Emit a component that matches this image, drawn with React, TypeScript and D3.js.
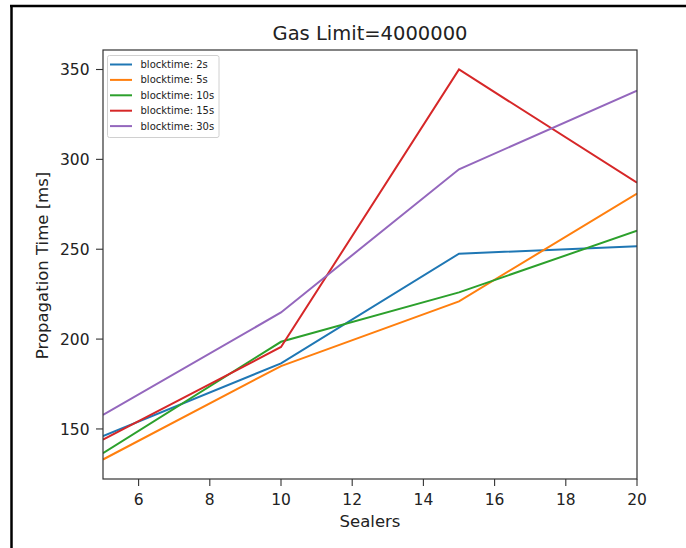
import React from "react";
import * as d3 from "d3";

const sealers = [5, 10, 15, 20];
const seriesNames = ["blocktime: 2s", "blocktime: 5s", "blocktime: 10s", "blocktime: 15s", "blocktime: 30s"];
const bt2 = [146, 186.5, 247.5, 251.6];
const bt5 = [133, 185, 221, 281];
const bt10 = [136.5, 198.5, 226, 260.3];
const bt15 = [144, 195.6, 350, 287];
const bt30 = [157.8, 214.8, 294.5, 338.2];
const seriesValues = [bt2, bt5, bt10, bt15, bt30];
const colors = ["#1f77b4", "#ff7f0e", "#2ca02c", "#d62728", "#9467bd"];
const xTicks = [6, 8, 10, 12, 14, 16, 18, 20];
const yTicks = [150, 200, 250, 300, 350];

const W = 686;
const H = 548;
const left = 103;
const right = 637;
const top = 50;
const bottom = 479;
const font = "DejaVu Sans, sans-serif";

export default function App() {
  const allVals = seriesValues.flat();
  const yMin = d3.min(allVals) as number;
  const yMax = d3.max(allVals) as number;
  const pad = (yMax - yMin) * 0.05;
  const x = d3.scaleLinear().domain([5, 20]).range([left, right]);
  const y = d3.scaleLinear().domain([yMin - pad, yMax + pad]).range([bottom, top]);
  const line = d3
    .line<number>()
    .x((_, i) => x(sealers[i]))
    .y((d) => y(d));

  return (
    <svg
      width={W}
      height={H}
      style={{ position: "absolute", left: 0, top: 0, background: "#fff" }}
      fontFamily={font}
    >
      <rect x={0} y={0} width={W} height={H} fill="#fff" />
      {/* outer frame */}
      <line x1={11.5} y1={5} x2={11.5} y2={H} stroke="#000" strokeWidth={2.5} />
      <line x1={10} y1={6} x2={W} y2={6} stroke="#000" strokeWidth={2.5} />

      <text x={(left + right) / 2} y={40} textAnchor="middle" fontSize={19.5} fill="#222">
        Gas Limit=4000000
      </text>

      <defs>
        <clipPath id="plotclip">
          <rect x={left} y={top} width={right - left} height={bottom - top} />
        </clipPath>
      </defs>

      <g clipPath="url(#plotclip)">
        {seriesValues.map((vals, i) => (
          <path
            key={i}
            d={line(vals) as string}
            fill="none"
            stroke={colors[i]}
            strokeWidth={2}
            strokeLinejoin="miter"
          />
        ))}
      </g>

      {/* spines */}
      <rect x={left} y={top} width={right - left} height={bottom - top} fill="none" stroke="#333" strokeWidth={1.2} />

      {/* x ticks */}
      {xTicks.map((t) => (
        <g key={t}>
          <line x1={x(t)} x2={x(t)} y1={bottom} y2={bottom + 7} stroke="#333" strokeWidth={1.1} />
          <text x={x(t)} y={505} textAnchor="middle" fontSize={15.5} fill="#222">
            {t}
          </text>
        </g>
      ))}
      {/* y ticks */}
      {yTicks.map((t) => (
        <g key={t}>
          <line x1={left - 7} x2={left} y1={y(t)} y2={y(t)} stroke="#333" strokeWidth={1.1} />
          <text x={left - 13.5} y={y(t)} dy="0.36em" textAnchor="end" fontSize={15.5} fill="#222">
            {t}
          </text>
        </g>
      ))}

      <text x={(left + right) / 2} y={527} textAnchor="middle" fontSize={16.5} fill="#222">
        Sealers
      </text>
      <text
        transform={`translate(47.5, ${(top + bottom) / 2 + 1}) rotate(-90)`}
        textAnchor="middle"
        fontSize={16.5}
        fill="#222"
      >
        Propagation Time [ms]
      </text>

      {/* legend */}
      <rect x={107.5} y={55.5} width={111.5} height={82} rx={2} fill="#fff" fillOpacity={0.8} stroke="#d0d0d0" strokeWidth={1} />
      {seriesNames.map((name, i) => {
        const ly = 64.5 + i * 15.4;
        return (
          <g key={name}>
            <line x1={110} x2={132} y1={ly} y2={ly} stroke={colors[i]} strokeWidth={2} />
            <text x={140.5} y={ly} dy="0.35em" fontSize={10} fill="#222">
              {name}
            </text>
          </g>
        );
      })}
    </svg>
  );
}
